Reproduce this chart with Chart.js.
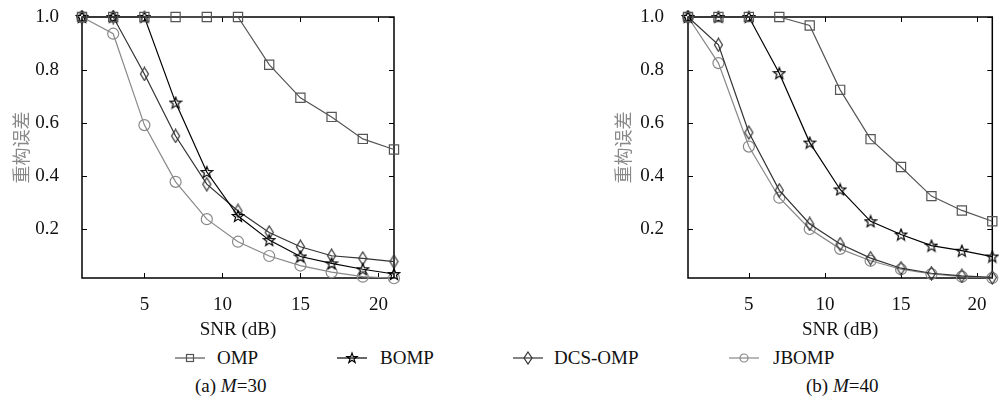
<!DOCTYPE html>
<html>
<head>
<meta charset="utf-8">
<script src="https://cdn.jsdelivr.net/npm/chart.js@4.4.1/dist/chart.umd.min.js"></script>
<style>
body { margin: 0; background: #fff; width: 1000px; height: 398px; overflow: hidden; position: relative; font-family: 'Liberation Serif', serif; color: #111; }
canvas { position: absolute; top: 0; }
#chartA { left: 0; }
#chartB { left: 600px; }
.mk { position: absolute; top: 351px; }
.lt { position: absolute; top: 347px; font-size: 19px; line-height: 22px; }
.cap { position: absolute; top: 375px; font-size: 19px; line-height: 22px; }
</style>
</head>
<body>
<canvas id="chartA" width="420" height="345"></canvas>
<canvas id="chartB" width="400" height="345"></canvas>

<svg class="mk" style="left:175px" width="30" height="14"><line x1="0" y1="7" x2="30" y2="7" stroke="#555" stroke-width="1.2"/><rect x="11.5" y="3.5" width="7" height="7" fill="none" stroke="#555" stroke-width="1.2"/></svg>
<div class="lt" style="left:217px">OMP</div>
<svg class="mk" style="left:337px" width="30" height="14"><line x1="0" y1="7" x2="30" y2="7" stroke="#000" stroke-width="1.2"/><polygon points="15,2 16.3,5.6 20,5.6 17,7.9 18.1,11.5 15,9.3 11.9,11.5 13,7.9 10,5.6 13.7,5.6" fill="none" stroke="#000" stroke-width="1.2"/></svg>
<div class="lt" style="left:380px">BOMP</div>
<svg class="mk" style="left:513px" width="30" height="14"><line x1="0" y1="7" x2="30" y2="7" stroke="#333" stroke-width="1.2"/><polygon points="15,1 19,7 15,13 11,7" fill="none" stroke="#333" stroke-width="1.2"/></svg>
<div class="lt" style="left:554px">DCS-OMP</div>
<svg class="mk" style="left:729px" width="30" height="14"><line x1="0" y1="7" x2="30" y2="7" stroke="#888" stroke-width="1.2"/><circle cx="15" cy="7" r="4" fill="none" stroke="#888" stroke-width="1.2"/></svg>
<div class="lt" style="left:773px">JBOMP</div>

<div class="cap" style="left:195px">(a) <i>M</i>=30</div>
<div class="cap" style="left:806px">(b) <i>M</i>=40</div>

<script>
// SNR values (x axis)
const snr = [1, 3, 5, 7, 9, 11, 13, 15, 17, 19, 21];
const xTicks = [5, 10, 15, 20];
const yTicks = [0.2, 0.4, 0.6, 0.8, 1.0];

// (a) M=30
const ompA = [1, 1, 1, 1, 1, 1, 0.82, 0.695, 0.623, 0.54, 0.50];
const bompA = [1, 1, 1, 0.677, 0.415, 0.249, 0.158, 0.096, 0.07, 0.048, 0.03];
const dcsA = [1, 1, 0.785, 0.551, 0.369, 0.268, 0.187, 0.133, 0.099, 0.089, 0.077];
const jbompA = [1, 0.937, 0.592, 0.378, 0.237, 0.152, 0.098, 0.062, 0.037, 0.02, 0.014];

// (b) M=40
const ompB = [1, 1, 1, 1, 0.968, 0.725, 0.539, 0.434, 0.324, 0.27, 0.229];
const bompB = [1, 1, 1, 0.788, 0.526, 0.349, 0.229, 0.179, 0.137, 0.118, 0.096];
const dcsB = [1, 0.895, 0.564, 0.346, 0.219, 0.143, 0.09, 0.052, 0.033, 0.023, 0.017];
const jbompB = [1, 0.826, 0.511, 0.318, 0.2, 0.125, 0.08, 0.048, 0.03, 0.02, 0.015];

Chart.defaults.font.family = "'Liberation Serif', serif";
Chart.defaults.font.size = 19;
Chart.defaults.color = '#111';

// hollow marker images
const makeStar = () => {
    const c = document.createElement('canvas');
    c.width = 14; c.height = 14;
    const ctx = c.getContext('2d');
    ctx.beginPath();
    for (let i = 0; i < 10; i++) {
        const r = i % 2 === 0 ? 6 : 2.6;
        const a = -Math.PI / 2 + i * Math.PI / 5;
        const px = 7 + r * Math.cos(a), py = 7.5 + r * Math.sin(a);
        if (i === 0) ctx.moveTo(px, py); else ctx.lineTo(px, py);
    }
    ctx.closePath();
    ctx.strokeStyle = '#000';
    ctx.lineWidth = 1.2;
    ctx.stroke();
    return c;
};
const makeDiamond = () => {
    const c = document.createElement('canvas');
    c.width = 11; c.height = 15;
    const ctx = c.getContext('2d');
    ctx.beginPath();
    ctx.moveTo(5.5, 1); ctx.lineTo(9.5, 7.5); ctx.lineTo(5.5, 14); ctx.lineTo(1.5, 7.5);
    ctx.closePath();
    ctx.strokeStyle = '#333';
    ctx.lineWidth = 1.2;
    ctx.stroke();
    return c;
};
const starImg = makeStar();
const diamondImg = makeDiamond();

const pts = arr => snr.map((x, i) => ({ x: x, y: arr[i] }));

// box with inward ticks on all four sides
const framePlugin = {
    id: 'frame',
    beforeDatasetsDraw(chart) {
        const { ctx, chartArea: a, scales } = chart;
        ctx.save();
        ctx.strokeStyle = '#000';
        ctx.lineWidth = 1.5;
        ctx.strokeRect(a.left, a.top, a.right - a.left, a.bottom - a.top);
        ctx.lineWidth = 1;
        ctx.beginPath();
        xTicks.forEach(v => {
            const px = Math.round(scales.x.getPixelForValue(v)) + 0.5;
            ctx.moveTo(px, a.bottom); ctx.lineTo(px, a.bottom - 5);
            ctx.moveTo(px, a.top); ctx.lineTo(px, a.top + 5);
        });
        yTicks.forEach(v => {
            const py = Math.round(scales.y.getPixelForValue(v)) + 0.5;
            ctx.moveTo(a.left, py); ctx.lineTo(a.left + 5, py);
            ctx.moveTo(a.right, py); ctx.lineTo(a.right - 5, py);
        });
        ctx.stroke();
        ctx.restore();
    }
};

const renderPlot = (ctx, omp, bomp, dcs, jbomp, yWidth, rightPad, titlePad, tickPad) => {
    new Chart(ctx, {
        type: 'line',
        data: {
            datasets: [
                { label: 'OMP', data: pts(omp), borderColor: '#555', borderWidth: 1.2, pointStyle: 'rect', pointRadius: 6.5, pointBorderColor: '#555', pointBackgroundColor: 'transparent', pointBorderWidth: 1.2, clip: false },
                { label: 'BOMP', data: pts(bomp), borderColor: '#000', borderWidth: 1.2, pointStyle: starImg, pointRadius: 6, clip: false },
                { label: 'DCS-OMP', data: pts(dcs), borderColor: '#333', borderWidth: 1.2, pointStyle: diamondImg, pointRadius: 6, clip: false },
                { label: 'JBOMP', data: pts(jbomp), borderColor: '#888', borderWidth: 1.2, pointStyle: 'circle', pointRadius: 5.5, pointBorderColor: '#888', pointBackgroundColor: 'transparent', pointBorderWidth: 1.2, clip: false }
            ]
        },
        options: {
            responsive: false,
            animation: false,
            devicePixelRatio: 1,
            layout: { padding: { top: 17, right: rightPad, left: 0, bottom: 0 } },
            plugins: { legend: { display: false }, tooltip: { enabled: false } },
            elements: { line: { tension: 0 } },
            scales: {
                x: {
                    type: 'linear', min: 1, max: 21,
                    grid: { display: false }, border: { display: false },
                    afterBuildTicks: s => { s.ticks = xTicks.map(v => ({ value: v })); },
                    afterFit: s => { s.height = 67; s.paddingLeft = 0; s.paddingRight = 0; },
                    ticks: { padding: 8, maxRotation: 0, callback: v => v },
                    title: { display: true, text: 'SNR (dB)', padding: { top: 0, bottom: 4 } }
                },
                y: {
                    type: 'linear', min: 0.015, max: 1,
                    grid: { display: false }, border: { display: false },
                    afterBuildTicks: s => { s.ticks = yTicks.map(v => ({ value: v })); },
                    afterFit: s => { s.width = yWidth; s.paddingTop = 0; s.paddingBottom = 0; },
                    ticks: { padding: tickPad, callback: v => v.toFixed(1) },
                    title: { display: true, text: '重构误差', color: '#888', font: { family: "'Noto Sans CJK SC'", size: 18 }, padding: { top: titlePad, bottom: 0 } }
                }
            }
        },
        plugins: [framePlugin]
    });
};

renderPlot(document.getElementById('chartA'), ompA, bompA, dcsA, jbompA, 82, 26, 10, 15);
renderPlot(document.getElementById('chartB'), ompB, bompB, dcsB, jbompB, 88, 0, 12, 16);
</script>
</body>
</html>
